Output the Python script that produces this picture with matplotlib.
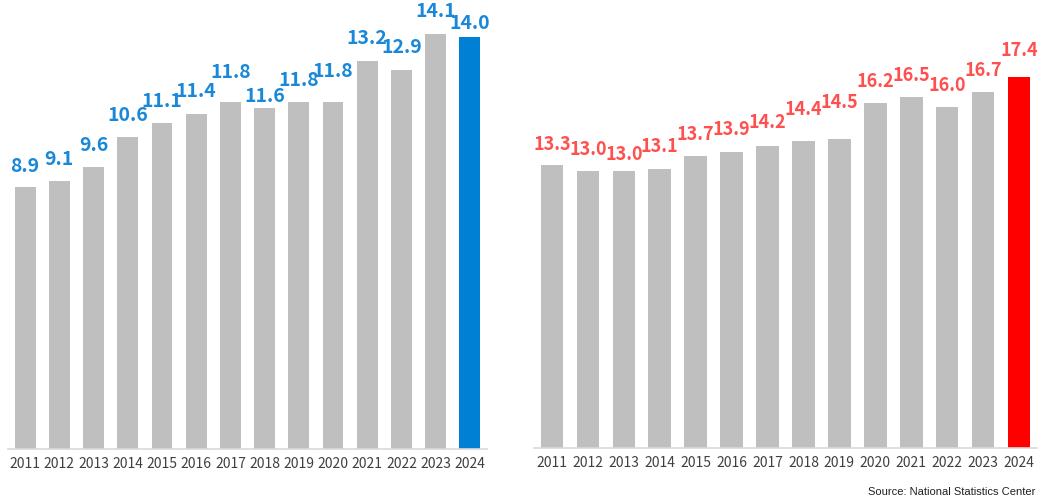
import matplotlib
matplotlib.use('Agg')
import matplotlib.pyplot as plt

plt.rcParams['font.family'] = ['Noto Sans CJK JP', 'DejaVu Sans']

years = ['2011', '2012', '2013', '2014', '2015', '2016', '2017',
         '2018', '2019', '2020', '2021', '2022', '2023', '2024']
left_vals = [8.9, 9.1, 9.6, 10.6, 11.1, 11.4, 11.8, 11.6, 11.8, 11.8, 13.2, 12.9, 14.1, 14.0]
right_vals = [13.3, 13.0, 13.0, 13.1, 13.7, 13.9, 14.2, 14.4, 14.5, 16.2, 16.5, 16.0, 16.7, 17.4]

# label gap above each bar top, in pixels (staggered like the original to avoid clashes)
left_gap = [15, 16, 16, 16, 16, 17, 24, 6, 16, 25, 17, 17, 17, 8]
right_gap = [15, 16, 11, 17, 16, 17, 18, 26, 31, 16, 16, 16, 16, 21]

GRAY = '#BFBFBF'
W, H = 1046, 501

fig = plt.figure(figsize=(W / 100, H / 100), dpi=100)


def panel(rect, vals, gaps, ymax, width, hi_color, lab_color, lab_size):
    ax = fig.add_axes(rect)
    x = list(range(len(vals)))
    colors = [GRAY] * (len(vals) - 1) + [hi_color]
    ax.bar(x, vals, width=width, color=colors, zorder=2)
    for xi, v, g in zip(x, vals, gaps):
        ax.annotate(f'{v:.1f}', (xi, v), xytext=(0, g * 0.72), textcoords='offset points',
                    ha='center', va='baseline', color=lab_color,
                    fontsize=lab_size, fontweight='bold')
    ax.set_xlim(-0.5, len(vals) - 0.5)
    ax.set_ylim(0, ymax)
    ax.set_xticks(x)
    ax.set_xticklabels(years, fontsize=10, color='#404040')
    ax.tick_params(axis='x', length=0, pad=6)
    ax.set_yticks([])
    for s in ['top', 'right', 'left']:
        ax.spines[s].set_visible(False)
    ax.spines['bottom'].set_color('#D9D9D9')
    ax.spines['bottom'].set_linewidth(1.2)
    return ax


# left panel: x 8..487 px, baseline y=449
panel([8 / W, (H - 449) / H, 479 / W, 449 / H], left_vals, left_gap, 449 / 29.4, 0.61,
      '#0080D4', '#1A88D8', 14)
# right panel: x 534..1037 px, baseline y=448
panel([534 / W, (H - 448) / H, 503 / W, 448 / H], right_vals, right_gap, 448 / 21.3, 0.63,
      '#FF0000', '#FF5050', 13)

fig.text(1035 / W, 1 - 492 / H, 'Source: National Statistics Center',
         ha='right', va='center', fontsize=8, color='#202020',
         family=['Liberation Sans', 'DejaVu Sans'])

fig.savefig('out.png', dpi=100)
